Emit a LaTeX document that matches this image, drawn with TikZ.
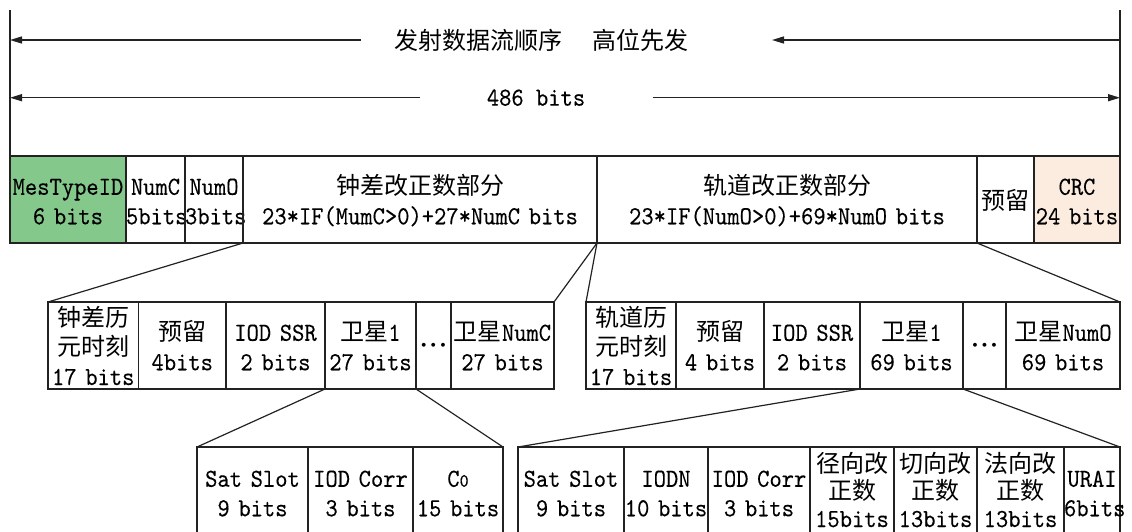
\documentclass[tikz,border=0pt]{standalone}
\usepackage{fontspec}
\newfontfamily\cjk{Noto Sans CJK SC}
\newfontfamily\lat{lmmono10-regular.otf}[FakeStretch=0.9,FakeBold=0.2]
\usetikzlibrary{arrows.meta}
\definecolor{mtgreen}{HTML}{84C98B}
\definecolor{crcpeach}{HTML}{FBECDF}
\definecolor{ink}{HTML}{222222}
\newcommand\zh[1]{{\cjk\fontsize{24pt}{29.5pt}\selectfont #1}}
\newcommand\tx[1]{\mbox{\rule{0pt}{22pt}\smash{#1}\rule[-2pt]{0pt}{2pt}}}
\newcommand\txc[1]{\mbox{\rule{0pt}{20pt}\smash{#1}\rule[-4pt]{0pt}{4pt}}}
\newcommand\zerosub{{\fontsize{19pt}{20pt}\selectfont 0}}
\newcommand\threedots{$\mathord{\cdot}\mkern1mu\mathord{\cdot}\mkern1mu\mathord{\cdot}$}
\begin{document}
\begin{tikzpicture}[x=1pt,y=-1pt,
  fld/.style={draw=ink, line width=1.4pt, inner sep=0pt, outer sep=0pt,
    anchor=north west, align=center,
    font=\lat\fontsize{26pt}{29.5pt}\selectfont},
  rowa/.style={fld, minimum height=87pt},
  rowb/.style={fld, minimum height=87pt},
  rowc/.style={fld, minimum height=89pt},
  tight/.style={font=\lat\fontsize{26pt}{27.5pt}\selectfont},
  link/.style={draw=ink, line width=1.2pt},
  vline/.style={draw=ink, line width=1.4pt},
  arr/.style={draw=ink, line width=1.4pt, -{Triangle[length=12pt,width=7pt]}},
  lbl/.style={inner sep=0pt, font=\lat\fontsize{26pt}{29.5pt}\selectfont},
  dots/.style={font=\fontsize{26pt}{29.5pt}\selectfont\boldmath}
]
\useasboundingbox (0,0) rectangle (1132,531);
\clip (0,0) rectangle (1132,531);

% ---- top row ----
\node[rowa, fill=mtgreen, text width=116pt] (mt) at (10,156) {\tx{MesTypeID}\\\tx{6 bits}};
\node[rowa, text width=59pt] (nc) at (126,156) {\tx{NumC}\\\tx{5bits}};
\node[rowa, text width=58pt] (no) at (185,156) {\tx{NumO}\\\tx{3bits}};
\node[rowa, text width=354pt] (clk) at (243,156) {\tx{\zh{钟差改正数部分}}\\\tx{23*IF(MumC>0)+27*NumC bits}};
\node[rowa, text width=380pt] (orb) at (597,156) {\tx{\zh{轨道改正数部分}}\\\tx{23*IF(NumO>0)+69*NumO bits}};
\node[rowa, text width=57pt] (rsv) at (977,156) {\tx{\zh{预留}}};
\node[rowa, fill=crcpeach, text width=86pt] (crc) at (1034,156) {\tx{CRC}\\\tx{24 bits}};

% ---- second row, clock part ----
\node[rowb, text width=90.5pt] (c1) at (48,302) {\tx{\zh{钟差历}}\\\tx{\zh{元时刻}}\\\tx{17 bits}};
\node[rowb, text width=87.5pt] (c2) at (138.5,302) {\tx{\zh{预留}}\\\tx{4bits}};
\node[rowb, text width=99pt] (c3) at (226,302) {\tx{IOD SSR}\\\tx{2 bits}};
\node[rowb, text width=91pt] (c4) at (325,302) {\tx{\zh{卫星}1}\\\tx{27 bits}};
\node[rowb, dots, text width=35pt] (c5) at (416,302) {\threedots};
\node[rowb, text width=103pt] (c6) at (451,302) {\tx{\zh{卫星}NumC}\\\tx{27 bits}};

% ---- second row, orbit part ----
\node[rowb, text width=90pt] (o1) at (586,302) {\tx{\zh{轨道历}}\\\tx{\zh{元时刻}}\\\tx{17 bits}};
\node[rowb, text width=88pt] (o2) at (676,302) {\tx{\zh{预留}}\\\tx{4 bits}};
\node[rowb, text width=96pt] (o3) at (764,302) {\tx{IOD SSR}\\\tx{2 bits}};
\node[rowb, text width=103pt] (o4) at (860,302) {\tx{\zh{卫星}1}\\\tx{69 bits}};
\node[rowb, dots, text width=43pt] (o5) at (963,302) {\threedots};
\node[rowb, text width=114pt] (o6) at (1006,302) {\tx{\zh{卫星}NumO}\\\tx{69 bits}};

% ---- third row, clock satellite ----
\node[rowc, text width=111pt] (s1) at (197,447) {\tx{Sat Slot}\\\tx{9 bits}};
\node[rowc, text width=105pt] (s2) at (308,447) {\tx{IOD Corr}\\\tx{3 bits}};
\node[rowc, text width=90pt] (s3) at (413,447) {\tx{C\zerosub}\\\tx{15 bits}};

% ---- third row, orbit satellite ----
\node[rowc, text width=106pt] (t1) at (518,447) {\tx{Sat Slot}\\\tx{9 bits}};
\node[rowc, text width=84pt] (t2) at (624,447) {\tx{IODN}\\\tx{10 bits}};
\node[rowc, text width=102pt] (t3) at (708,447) {\tx{IOD Corr}\\\tx{3 bits}};
\node[rowc, tight, text width=84pt] (t4) at (810,447) {\txc{\zh{径向改}}\\\txc{\zh{正数}}\\\txc{15bits}};
\node[rowc, tight, text width=83pt] (t5) at (894,447) {\txc{\zh{切向改}}\\\txc{\zh{正数}}\\\txc{13bits}};
\node[rowc, tight, text width=87pt] (t6) at (977,447) {\txc{\zh{法向改}}\\\txc{\zh{正数}}\\\txc{13bits}};
\node[rowc, text width=56pt] (t7) at (1064,447) {\tx{URAI}\\\tx{6bits}};

% ---- expansion connectors ----
\draw[link] (clk.south west) -- (c1.north west);
\draw[link] (clk.south east) -- (c6.north east);
\draw[link] (clk.south east) -- (o1.north west);
\draw[link] (orb.south east) -- (o6.north east);
\draw[link] (c4.south west) -- (s1.north west);
\draw[link] (c4.south east) -- (s3.north east);
\draw[link] (o4.south west) -- (t1.north west);
\draw[link] (o4.south east) -- (t7.north east);

% ---- top dimension lines ----
\coordinate (topL) at (10,10);
\coordinate (topR) at (1120,10);
\draw[vline] (topL) -- (mt.north west);
\draw[vline] (topR) -- (crc.north east);

\node[lbl] (title) at (541,40) {\zh{发射数据流顺序}\hspace{30pt}\zh{高位先发}};
\node[lbl] (total) at (536,97.7) {486 bits};

\coordinate (a1s) at (361,40);
\coordinate (a1e) at (10,40);
\coordinate (a2s) at (1120,40);
\coordinate (a2e) at (772,40);
\coordinate (b1s) at (420,97.7);
\coordinate (b1e) at (10,97.7);
\coordinate (b2s) at (652.6,97.7);
\coordinate (b2e) at (1120,97.7);
\draw[arr] (a1s) -- (a1e);
\draw[arr] (a2s) -- (a2e);
\draw[arr] (b1s) -- (b1e);
\draw[arr] (b2s) -- (b2e);
\end{tikzpicture}
\end{document}
